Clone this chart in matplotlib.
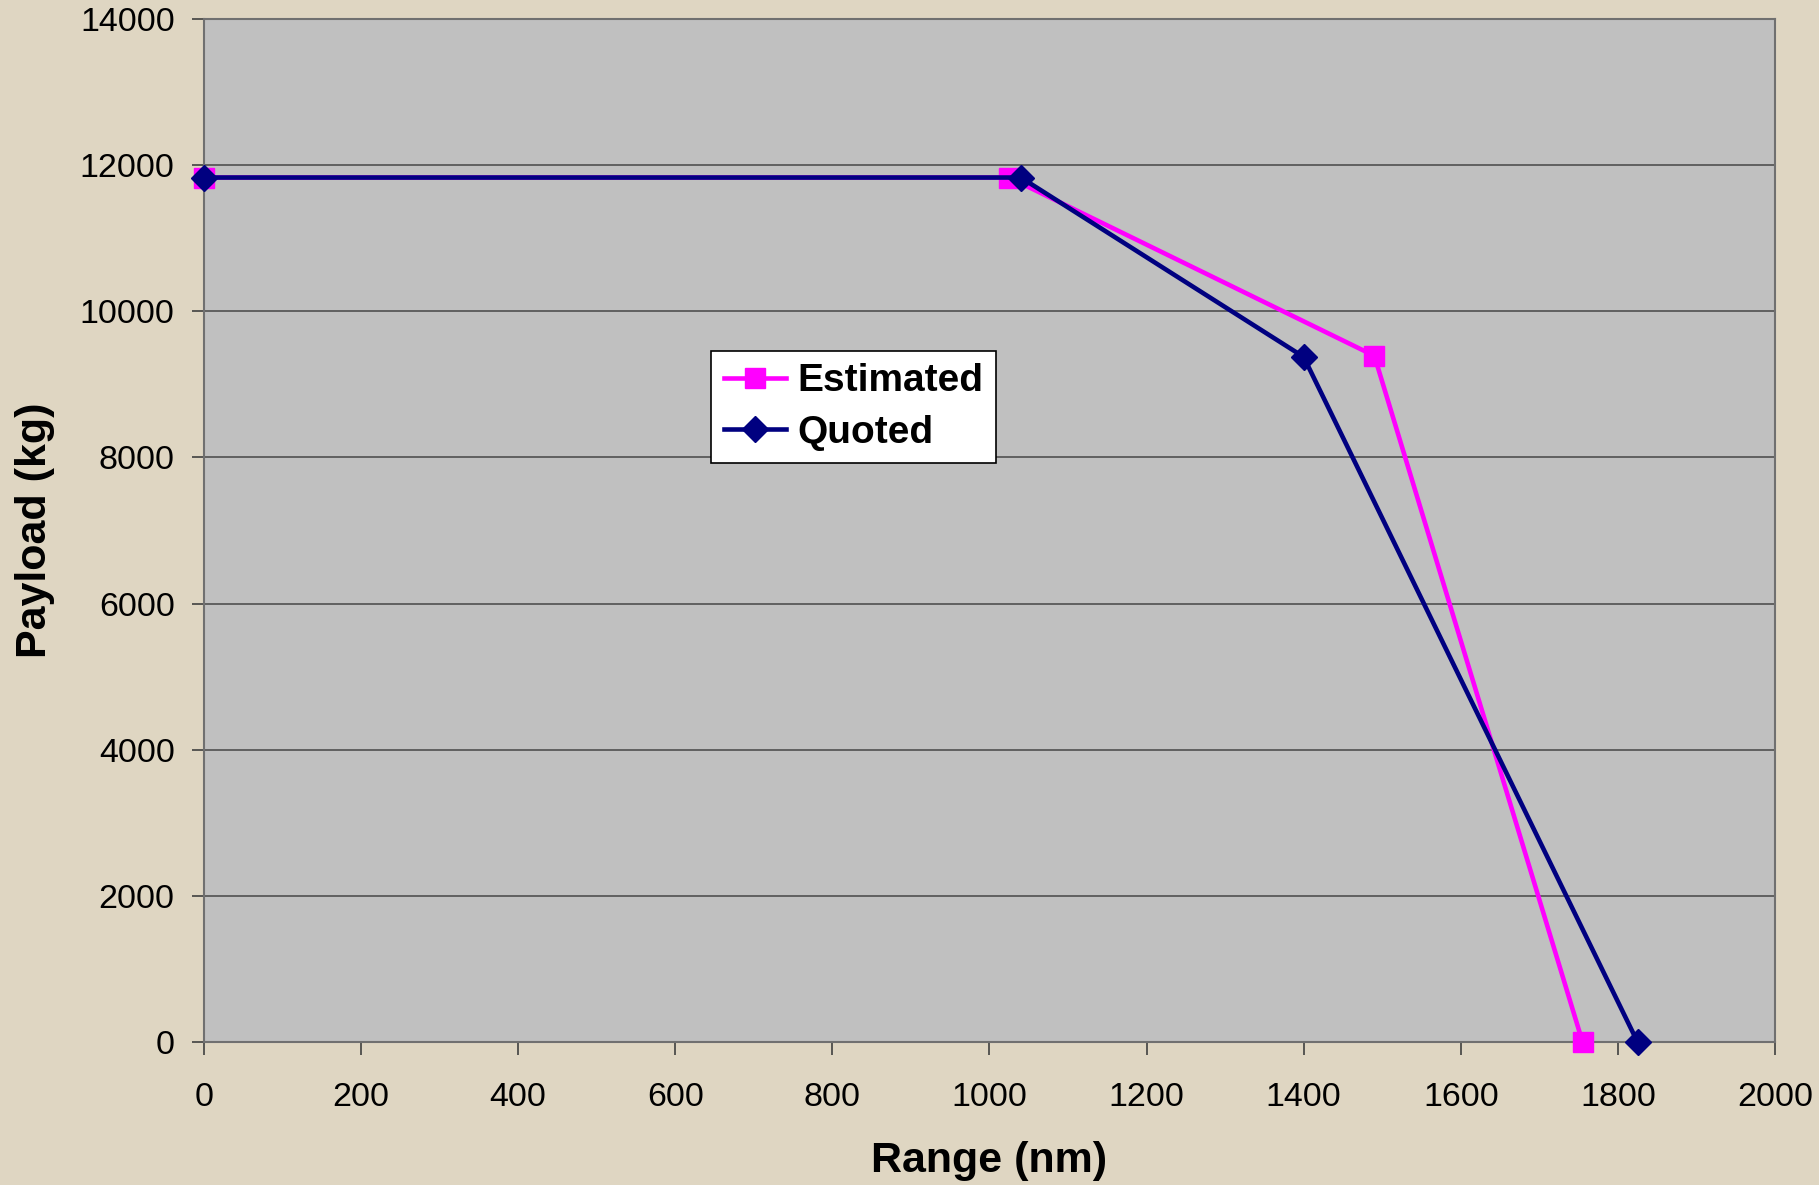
import matplotlib
matplotlib.use("Agg")
import matplotlib.pyplot as plt

# payload-range data
est_range = [0, 1025, 1490, 1755]
est_payload = [11830, 11830, 9390, 0]

quo_range = [0, 1040, 1400, 1825]
quo_payload = [11830, 11830, 9375, 0]

x_ticks = list(range(0, 2001, 200))
y_ticks = list(range(0, 14001, 2000))

plt.rcParams["font.family"] = ["Liberation Sans", "DejaVu Sans"]

fig = plt.figure(figsize=(18.19, 11.85), dpi=100)
fig.patch.set_facecolor("#DFD6C2")

ax = fig.add_axes([0.1121, 0.1207, 0.8637, 0.8633])
ax.set_facecolor("#C0C0C0")

ax.plot(est_range, est_payload, color="#FF00FF", lw=3.3, marker="s",
        ms=15, mec="#FF00FF", label="Estimated", clip_on=False, zorder=3)
ax.plot(quo_range, quo_payload, color="#000080", lw=3.3, marker="D",
        ms=13.5, mec="#000080", label="Quoted", clip_on=False, zorder=4)

ax.set_xlim(0, 2000)
ax.set_ylim(0, 14000)
ax.set_xticks(x_ticks)
ax.set_yticks(y_ticks)
ax.yaxis.grid(True, color="#505050", lw=1.2)
ax.set_axisbelow(True)

for s in ax.spines.values():
    s.set_color("#707070")
    s.set_linewidth(1.5)

ax.tick_params(axis="both", direction="out", length=9, width=1.2,
               color="#404040", labelsize=24.5)
ax.tick_params(axis="y", pad=12)
ax.tick_params(axis="x", pad=20)

ax.set_xlabel("Range (nm)", fontsize=31, fontweight="bold", labelpad=20)
ax.set_ylabel("Payload (kg)", fontsize=31, fontweight="bold", labelpad=18)

leg = ax.legend(loc="upper left", bbox_to_anchor=(0.391, 0.704),
                bbox_transform=fig.transFigure,
                prop={"weight": "bold", "size": 28}, frameon=True,
                fancybox=False, framealpha=1, edgecolor="#000000",
                borderpad=0.32, labelspacing=0.4, handlelength=1.6,
                handletextpad=0.3, borderaxespad=0)
leg.get_frame().set_linewidth(1.2)

fig.savefig("out.png", dpi=100, facecolor=fig.get_facecolor())
